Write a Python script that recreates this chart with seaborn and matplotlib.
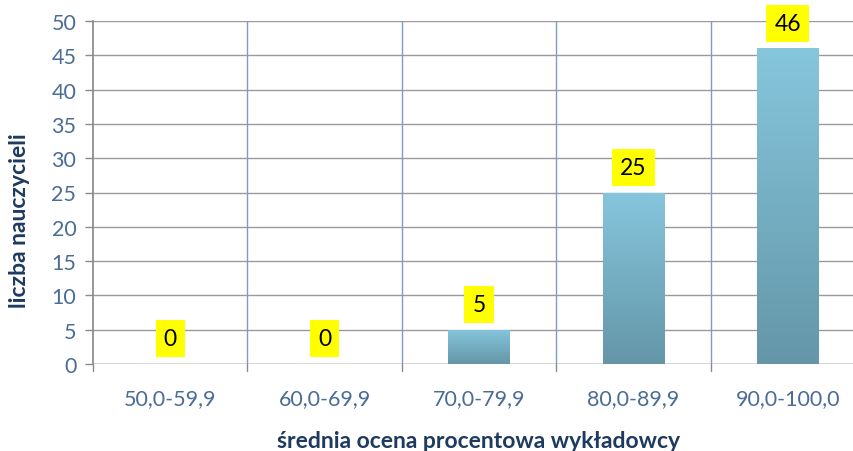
import numpy as np
import pandas as pd
import matplotlib
matplotlib.use("Agg")
import matplotlib.pyplot as plt
import seaborn as sns
from matplotlib.colors import LinearSegmentedColormap

# Data
categories = ['50,0-59,9', '60,0-69,9', '70,0-79,9', '80,0-89,9', '90,0-100,0']
counts = [0, 0, 5, 25, 46]

df = pd.DataFrame({'przedzial': categories, 'liczba': counts})

sns.set_theme(style="white")
plt.rcParams['font.family'] = ['Lato', 'DejaVu Sans']

tick_col = '#4a6c96'
label_col = '#1f3a5f'

fig = plt.figure(figsize=(8.54, 4.52), dpi=100)
ax = fig.add_axes([93 / 854, 1 - 365 / 452, 772 / 854, 343 / 452])

sns.barplot(data=df, x='przedzial', y='liczba', color='#7fbfd6', width=0.4,
            ax=ax, zorder=3)

# gradient fill on bars
cmap = LinearSegmentedColormap.from_list('bar', ['#6496a8', '#86c6dd'])
grad = np.linspace(0, 1, 256).reshape(-1, 1)
for p in ax.patches:
    x0, y0 = p.get_x(), p.get_y()
    w, h = p.get_width(), p.get_height()
    if h <= 0:
        continue
    p.set_edgecolor('none')
    im = ax.imshow(grad, extent=[x0, x0 + w, y0, y0 + h], origin='lower',
                   cmap=cmap, aspect='auto', zorder=4)
    im.set_clip_path(p)

ax.set_xlim(-0.5, len(categories) - 0.5)
ax.set_ylim(0, 50)
ax.set_yticks(range(0, 51, 5))

# horizontal grid
ax.yaxis.grid(True, color='#9a9a9a', linewidth=1.0, zorder=1)
ax.xaxis.grid(False)
# vertical separators between categories
for b in np.arange(0.5, len(categories) - 0.5, 1):
    ax.axvline(b, color='#7a9cc8', linewidth=1.0, zorder=1)
    ax.plot([b, b], [0, -1.0], color='#8a8a8a', linewidth=1.0, clip_on=False)
ax.plot([-0.5, -0.5], [0, -1.0], color='#8a8a8a', linewidth=1.0, clip_on=False)

for s in ['top', 'right', 'bottom']:
    ax.spines[s].set_visible(False)
ax.spines['left'].set_color('#8a8a8a')
ax.axhline(0, color='#8a8a8a', linewidth=1.0, zorder=5)

ax.tick_params(axis='y', length=6, width=1, color='#8a8a8a', left=True,
               labelsize=15.5, labelcolor=tick_col, pad=6)
ax.tick_params(axis='x', length=0, labelsize=15.5, labelcolor=tick_col, pad=17)

# value labels
for i, v in enumerate(counts):
    ax.text(i, v + 3.7, str(v), ha='center', va='center', fontsize=16.5,
            color='black', zorder=6,
            bbox=dict(boxstyle='square,pad=0.35', facecolor='#ffff00',
                      edgecolor='none'))

ax.set_xlabel('średnia ocena procentowa wykładowcy', fontsize=16.5,
              fontweight='bold', color=label_col, labelpad=16)
ax.set_ylabel('liczba nauczycieli', fontsize=16.5, fontweight='bold',
              color=label_col)
ax.yaxis.set_label_coords(-0.081, 0.42)

fig.savefig('out.png', dpi=100)
